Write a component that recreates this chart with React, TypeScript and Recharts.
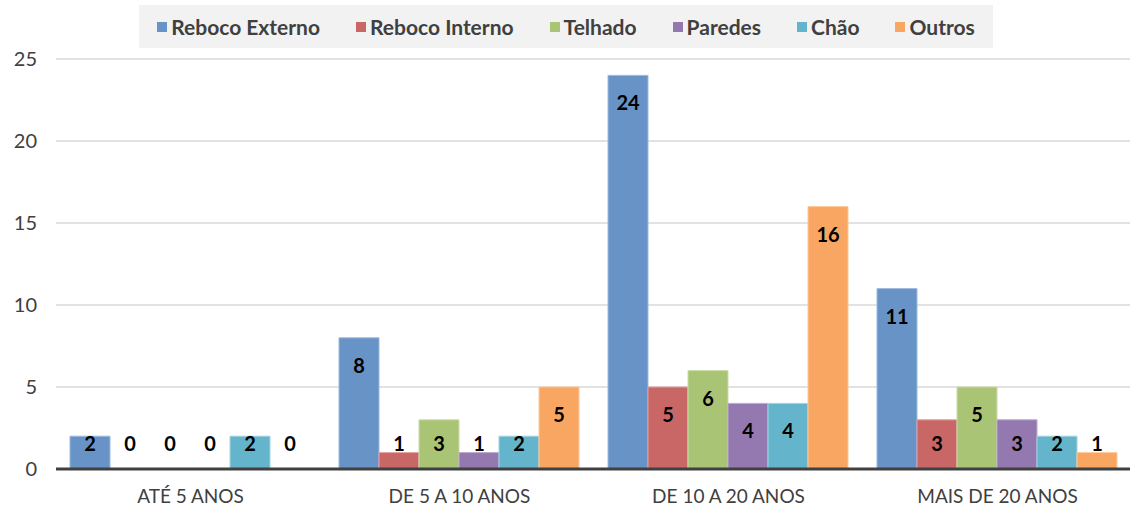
import { BarChart, Bar, XAxis, YAxis, CartesianGrid, Legend, LabelList, Rectangle } from 'recharts';

document.body.style.margin = '0';

const categories = ['ATÉ 5 ANOS', 'DE 5 A 10 ANOS', 'DE 10 A 20 ANOS', 'MAIS DE 20 ANOS'];
const rebocoExterno = [2, 8, 24, 11];
const rebocoInterno = [0, 1, 5, 3];
const telhado = [0, 3, 6, 5];
const paredes = [0, 1, 4, 3];
const chao = [2, 2, 4, 2];
const outros = [0, 5, 16, 1];
const yTicks = [0, 5, 10, 15, 20, 25];

const series = [
  { key: 'rebocoExterno', name: 'Reboco Externo', fill: '#6793C6', stroke: '#9DB9DF' },
  { key: 'rebocoInterno', name: 'Reboco Interno', fill: '#C96766', stroke: '#E0A3A2' },
  { key: 'telhado', name: 'Telhado', fill: '#A9C474', stroke: '#CBDDA8' },
  { key: 'paredes', name: 'Paredes', fill: '#9379AF', stroke: '#BDAACF' },
  { key: 'chao', name: 'Chão', fill: '#64B5CC', stroke: '#A2D3E2' },
  { key: 'outros', name: 'Outros', fill: '#F8A662', stroke: '#FBC99D' },
];

const data = categories.map((name, i) => ({
  name,
  rebocoExterno: rebocoExterno[i],
  rebocoInterno: rebocoInterno[i],
  telhado: telhado[i],
  paredes: paredes[i],
  chao: chao[i],
  outros: outros[i],
}));

const font = 'Lato, "Open Sans", sans-serif';
const textGrey = '#404040';

// excel style "inside end" label, pushed up when the bar is too short
const renderLabel = (props: any) => {
  const { x, y, width, height, value } = props;
  const base = y + height;
  const cy = Math.min(y + 27, base - 26);
  return (
    <text
      x={x + width / 2}
      y={cy}
      textAnchor="middle"
      dominantBaseline="central"
      fontFamily={font}
      fontWeight={700}
      fontSize={20}
      fill="#000"
    >
      {value}
    </text>
  );
};

// zero bars get a 1px stub so the label still shows, but the stub is not drawn
const renderBar = (props: any) => {
  if (props.value === 0) return <g />;
  return <Rectangle {...props} />;
};

const renderLegend = () => (
  <div style={{ display: 'flex', justifyContent: 'center', paddingBottom: 11 }}>
    <div
      style={{
        display: 'flex',
        alignItems: 'center',
        background: '#F2F2F2',
        height: 43,
        padding: '0 18px 0 18px',
        fontFamily: font,
        fontWeight: 700,
        fontSize: 21,
        color: textGrey,
      }}
    >
      {series.map((s, i) => (
        <div key={s.key} style={{ display: 'flex', alignItems: 'center', marginLeft: i === 0 ? 0 : 36 }}>
          <span style={{ width: 10, height: 10, background: s.fill, marginRight: 4, display: 'inline-block' }} />
          <span>{s.name}</span>
        </div>
      ))}
    </div>
  </div>
);

export default function App() {
  return (
    <BarChart
      width={1130}
      height={513}
      data={data}
      margin={{ top: 5, right: -2, left: 0, bottom: 14 }}
      barCategoryGap={14}
      barGap={0}
    >
      <CartesianGrid vertical={false} stroke="#D9D9D9" strokeWidth={1.5} />
      <XAxis
        dataKey="name"
        axisLine={{ stroke: '#404040', strokeWidth: 3 }}
        tickLine={false}
        tickMargin={15}
        height={30}
        tick={{ fontSize: 19, fill: textGrey, fontFamily: font }}
      />
      <YAxis
        domain={[0, 25]}
        ticks={yTicks}
        width={56}
        axisLine={false}
        tickLine={false}
        tickMargin={13}
        tick={{ fontSize: 20, fill: textGrey, fontFamily: font }}
      />
      <Legend verticalAlign="top" content={renderLegend} />
      {series.map((s) => (
        <Bar
          key={s.key}
          dataKey={s.key}
          name={s.name}
          fill={s.fill}
          stroke={s.stroke}
          strokeWidth={1}
          minPointSize={1}
          shape={renderBar}
          isAnimationActive={false}
        >
          <LabelList dataKey={s.key} content={renderLabel} />
        </Bar>
      ))}
    </BarChart>
  );
}
